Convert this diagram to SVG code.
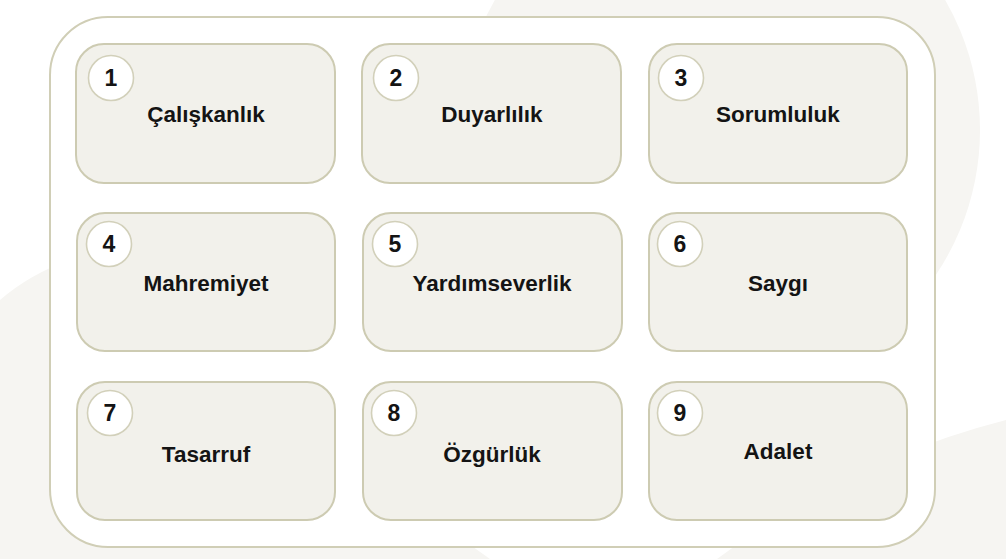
<svg xmlns="http://www.w3.org/2000/svg" width="1006" height="559" viewBox="0 0 1006 559">
<style>
.bg{fill:#f6f5f2}
.frame{fill:#ffffff;stroke:#d0ceb6;stroke-width:2}
.card{fill:#f2f1eb;stroke:#cdcbb2;stroke-width:2}
.badge{fill:#ffffff;stroke:#d2d0ba;stroke-width:1.6}
.num{font-family:"Liberation Sans",Arial,sans-serif;font-weight:bold;font-size:23px;fill:#141414;text-anchor:middle}
.lbl{font-family:"Liberation Sans",Arial,sans-serif;font-weight:bold;font-size:22.5px;fill:#141414;text-anchor:middle}
</style>
<rect width="1006" height="559" fill="#ffffff"/>
<g id="background">
<circle class="bg" cx="720" cy="130" r="260"/>
<path class="bg" d="M0,300 Q30,274 70,260 L490,559 L0,559 Z"/>
<path class="bg" d="M717,559 Q850,460 1006,420 L1006,559 Z"/>
</g>
<rect id="frame" class="frame" x="50" y="17" width="885" height="530" rx="58"/>
<g id="connectors"></g>
<g id="node1"><rect class="card" x="76" y="44" width="259" height="139" rx="28"/><circle class="badge" cx="111" cy="78" r="22.5"/><text class="num" x="111" y="86">1</text><text class="lbl" x="206" y="122">Çalışkanlık</text></g>
<g id="node2"><rect class="card" x="362" y="44" width="259" height="139" rx="28"/><circle class="badge" cx="396" cy="78" r="22.5"/><text class="num" x="396" y="86">2</text><text class="lbl" x="492" y="122">Duyarlılık</text></g>
<g id="node3"><rect class="card" x="649" y="44" width="258" height="139" rx="28"/><circle class="badge" cx="681" cy="78" r="22.5"/><text class="num" x="681" y="86">3</text><text class="lbl" x="778" y="122">Sorumluluk</text></g>
<g id="node4"><rect class="card" x="77" y="213" width="258" height="138" rx="28"/><circle class="badge" cx="109" cy="244" r="22.5"/><text class="num" x="109" y="252">4</text><text class="lbl" x="206" y="291">Mahremiyet</text></g>
<g id="node5"><rect class="card" x="363" y="213" width="259" height="138" rx="28"/><circle class="badge" cx="395" cy="244" r="22.5"/><text class="num" x="395" y="252">5</text><text class="lbl" x="492" y="291">Yardımseverlik</text></g>
<g id="node6"><rect class="card" x="649" y="213" width="258" height="138" rx="28"/><circle class="badge" cx="680" cy="244" r="22.5"/><text class="num" x="680" y="252">6</text><text class="lbl" x="778" y="291">Saygı</text></g>
<g id="node7"><rect class="card" x="77" y="382" width="258" height="138" rx="28"/><circle class="badge" cx="110" cy="413" r="22.5"/><text class="num" x="110" y="421">7</text><text class="lbl" x="206" y="462">Tasarruf</text></g>
<g id="node8"><rect class="card" x="363" y="382" width="259" height="138" rx="28"/><circle class="badge" cx="394" cy="413" r="22.5"/><text class="num" x="394" y="421">8</text><text class="lbl" x="492" y="462">Özgürlük</text></g>
<g id="node9"><rect class="card" x="649" y="382" width="258" height="138" rx="28"/><circle class="badge" cx="680" cy="413" r="22.5"/><text class="num" x="680" y="421">9</text><text class="lbl" x="778" y="459">Adalet</text></g>
</svg>
